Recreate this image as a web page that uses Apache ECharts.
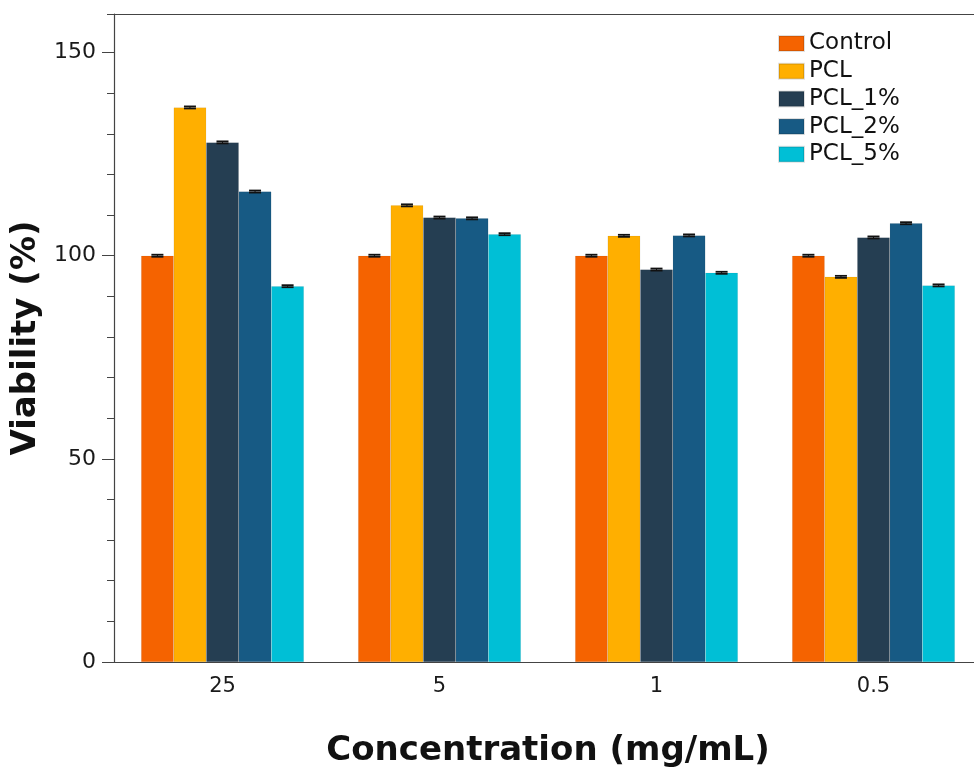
<!DOCTYPE html>
<html>
<head>
<meta charset="utf-8">
<script src="https://cdn.jsdelivr.net/npm/echarts@6/dist/echarts.min.js"></script>
<style>html,body{margin:0;padding:0;background:#fff;}#c{width:974px;height:767px;}</style>
</head>
<body>
<div id="c"></div>
<script>
const categories = ['25', '5', '1', '0.5'];
const seriesNames = ['Control', 'PCL', 'PCL_1%', 'PCL_2%', 'PCL_5%'];
const control = [100, 100, 100, 100];
const pcl = [136.5, 112.4, 104.9, 94.8];
const pcl1 = [127.9, 109.4, 96.6, 104.5];
const pcl2 = [115.8, 109.2, 105.0, 108.0];
const pcl5 = [92.5, 105.3, 95.8, 92.7];
const errors = [0.25, 0.25, 0.25, 0.25, 0.25];
const majorTicks = [0, 50, 100, 150];
const minorTicks = [10, 20, 30, 40, 60, 70, 80, 90, 110, 120, 130, 140, 159.5];
const colors = ['#F56300', '#FFAF00', '#253E52', '#175A84', '#00BFD6'];
const allValues = [control, pcl, pcl1, pcl2, pcl5];

const FONT = 'DejaVu Sans';
const catGap = 0.25;
const yMax = 159.5;
const chart = echarts.init(document.getElementById('c'));

const barSeries = allValues.map((vals, i) => ({
  name: seriesNames[i],
  type: 'bar',
  data: vals,
  barGap: '0%',
  barCategoryGap: (catGap * 100) + '%',
  itemStyle: { color: colors[i], borderColor: 'rgba(0,0,0,0.12)', borderWidth: 0.5 },
  z: 2
}));

const errSeries = allValues.map((vals, i) => ({
  name: seriesNames[i] + '_err',
  type: 'custom',
  data: vals.map((v, j) => [j, v, errors[i]]),
  z: 5,
  silent: true,
  renderItem: function (params, api) {
    const j = api.value(0), v = api.value(1), e = api.value(2);
    const band = api.size([1, 0])[0];
    const barW = band * (1 - catGap) / 5;
    const center = api.coord([j, v]);
    const x = center[0] - band * (1 - catGap) / 2 + barW * (i + 0.5);
    const yHi = api.coord([j, v + e])[1];
    const yLo = api.coord([j, v - e])[1];
    const hw = 6;
    return {
      type: 'group',
      children: [
        { type: 'line', shape: { x1: x, y1: yHi, x2: x, y2: yLo }, style: { stroke: '#111', lineWidth: 1 } },
        { type: 'line', shape: { x1: x - hw, y1: yHi, x2: x + hw, y2: yHi }, style: { stroke: '#111', lineWidth: 1.8 } },
        { type: 'line', shape: { x1: x - hw, y1: yLo, x2: x + hw, y2: yLo }, style: { stroke: '#111', lineWidth: 1.8 } }
      ]
    };
  }
}));

chart.setOption({
  animation: false,
  backgroundColor: '#fff',
  color: colors,
  grid: {
    left: 114, top: 14, width: 868, bottom: 105,
    outerBoundsMode: 'none',
    containLabel: false,
    show: false
  },
  legend: {
    data: seriesNames,
    orient: 'vertical',
    left: 773,
    top: 27,
    itemWidth: 25,
    itemHeight: 15,
    itemGap: 4.7,
    textStyle: { fontFamily: FONT, fontSize: 23, lineHeight: 23, color: '#111' },
    icon: 'rect'
  },
  xAxis: [{
    type: 'category',
    data: categories,
    position: 'bottom',
    axisLine: { onZero: false, lineStyle: { color: '#444', width: 1.2 } },
    axisTick: { show: false },
    axisLabel: { fontFamily: FONT, fontSize: 21, color: '#1a1a1a', margin: 14 },
    name: 'Concentration (mg/mL)',
    nameLocation: 'middle',
    nameGap: 72,
    nameTextStyle: { fontFamily: FONT, fontSize: 34, fontWeight: 'bold', color: '#111' }
  }, {
    type: 'category',
    data: categories,
    position: 'top',
    axisLine: { show: true, onZero: false, lineStyle: { color: '#444', width: 1.2 } },
    axisTick: { show: false },
    axisLabel: { show: false }
  }],
  yAxis: [{
    type: 'value',
    position: 'left',
    min: 0,
    max: yMax,
    interval: 50,
    axisLine: { show: true, onZero: false, lineStyle: { color: '#444', width: 1.2 } },
    axisTick: { show: true, length: 12, customValues: majorTicks, lineStyle: { color: '#444' } },
    splitLine: { show: false },
    axisLabel: {
      fontFamily: FONT, fontSize: 22, color: '#1a1a1a', margin: 18,
      customValues: majorTicks
    },
    name: 'Viability (%)',
    nameLocation: 'middle',
    nameGap: 68,
    nameTextStyle: { fontFamily: FONT, fontSize: 34, fontWeight: 'bold', color: '#111' }
  }, {
    type: 'value',
    position: 'left',
    min: 0,
    max: yMax,
    interval: 10,
    axisLine: { show: false, onZero: false },
    axisTick: { show: true, length: 7, customValues: minorTicks, lineStyle: { color: '#444' } },
    splitLine: { show: false },
    axisLabel: { show: false }
  }],
  series: barSeries.concat(errSeries)
});
</script>
</body>
</html>
